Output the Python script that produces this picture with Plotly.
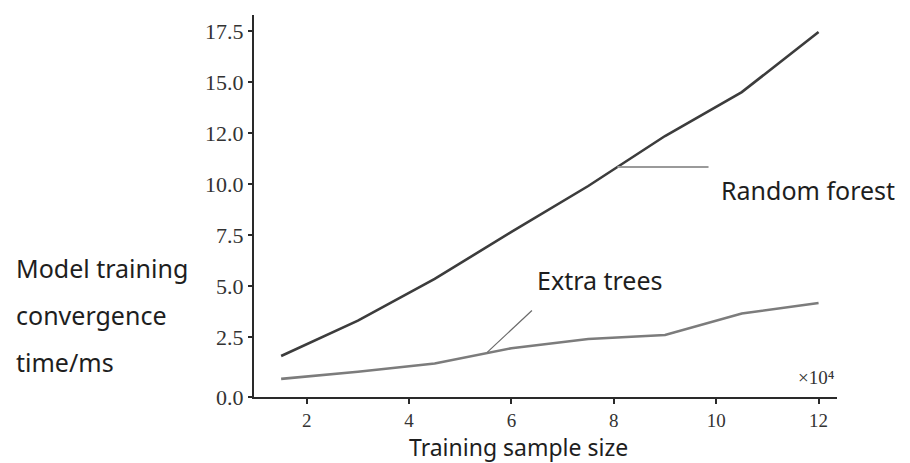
import plotly.graph_objects as go

# Data (x in units of 10^4 samples)
sample_size = [1.5, 3, 4.5, 6, 7.5, 9, 10.5, 12]
random_forest = [1.57, 3.3, 5.35, 7.65, 9.9, 12.35, 14.5, 17.45]
extra_trees = [0.45, 0.8, 1.2, 1.95, 2.4, 2.6, 3.65, 4.17]

x_tick_vals = [2, 4, 6, 8, 10, 12]
x_tick_text = ["2", "4", "6", "8", "10", "12"]
y_tick_vals = [-0.44, 2.5, 5, 7.5, 10, 12.5, 15, 17.5]
y_tick_text = ["0.0", "2.5", "5.0", "7.5", "10.0", "12.0", "15.0", "17.5"]

fig = go.Figure()
fig.add_trace(go.Scatter(x=sample_size, y=random_forest, mode="lines",
                         line=dict(color="#3c3c3c", width=2.6), name="Random forest",
                         showlegend=False))
fig.add_trace(go.Scatter(x=sample_size, y=extra_trees, mode="lines",
                         line=dict(color="#7c7c7c", width=2.6), name="Extra trees",
                         showlegend=False))

# leader lines
fig.add_shape(type="line", x0=8.07, y0=10.83, x1=9.85, y1=10.83,
              line=dict(color="#9a9a9a", width=2))
fig.add_shape(type="line", x0=5.53, y0=1.76, x1=6.4, y1=3.8,
              line=dict(color="#6a6a6a", width=1.2))

sans = "Noto Sans"
serif = "Liberation Serif"
PW, PH = 910 - 254 - 73, 397 - 15

fig.add_annotation(x=10.05, y=9.7, text="Random forest", showarrow=False,
                   xanchor="left", yanchor="middle",
                   font=dict(family=sans, size=25, color="#1e1e1e"))
fig.add_annotation(x=6.45, y=5.3, text="Extra trees", showarrow=False,
                   xanchor="left", yanchor="middle",
                   font=dict(family=sans, size=25, color="#1e1e1e"))
fig.add_annotation(xref="paper", yref="paper", x=1.0, y=0.05, text="×10⁴",
                   showarrow=False, xanchor="right", yanchor="middle",
                   font=dict(family=serif, size=19, color="#333333"))

# x-axis title
fig.add_annotation(xref="paper", yref="paper", x=(518 - 254) / PW, y=(397 - 447) / PH,
                   text="Training sample size", showarrow=False,
                   xanchor="center", yanchor="middle", borderpad=0,
                   font=dict(family=sans, size=23, color="#1e1e1e"))

# y-axis title lines
for txt, ypx in [("Model training", 268), ("convergence", 315), ("time/ms", 362)]:
    fig.add_annotation(xref="paper", yref="paper",
                       x=(14 - 254) / PW, y=(397 - ypx) / PH,
                       text=txt, showarrow=False, xanchor="left", yanchor="middle",
                       font=dict(family=sans, size=25, color="#1e1e1e"))

fig.update_layout(
    width=910, height=463,
    margin=dict(l=254, r=73, t=15, b=66),
    plot_bgcolor="white", paper_bgcolor="white",
    xaxis=dict(range=[0.97, 12.36], tickvals=x_tick_vals, ticktext=x_tick_text,
               showgrid=False, zeroline=False, showline=True, linecolor="#2a2a2a",
               linewidth=2, ticks="outside", ticklen=5, tickwidth=2, tickcolor="#2a2a2a",
               tickfont=dict(family=serif, size=19, color="#333333")),
    yaxis=dict(range=[-0.44, 18.28], tickvals=y_tick_vals, ticktext=y_tick_text,
               showgrid=False, zeroline=False, showline=True, linecolor="#2a2a2a",
               linewidth=2, ticks="outside", ticklen=4, tickwidth=2, tickcolor="#2a2a2a",
               tickfont=dict(family=serif, size=22, color="#333333")),
)

fig.write_html("out.html")
